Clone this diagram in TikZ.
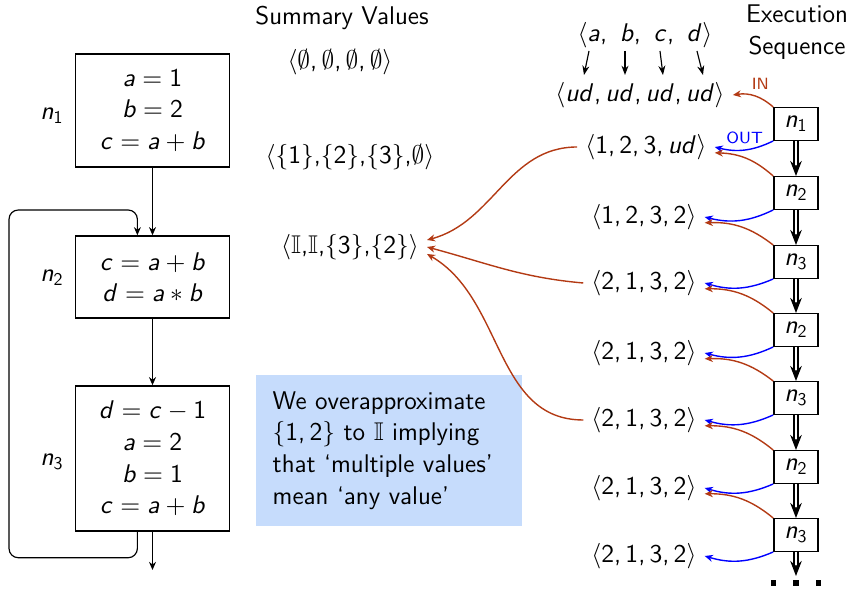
\documentclass[tikz,border=0pt]{standalone}
\usepackage{amssymb}
\usetikzlibrary{arrows.meta}

% sans serif math, as on the slide
\DeclareFontShape{OT1}{cmss}{m}{sl}{<-> cmssi10}{}
\DeclareFontShape{OT1}{cmss}{m}{n}{<-> cmss10}{}
\SetSymbolFont{operators}{normal}{OT1}{cmss}{m}{n}
\SetSymbolFont{letters}{normal}{OT1}{cmss}{m}{sl}
\DeclareMathSymbol{,}{\mathpunct}{operators}{"2C}

\begin{document}
\begin{tikzpicture}[x=0.43pt, y=-0.43pt,
    font=\fontsize{11}{13.6}\selectfont\sffamily,
    stmtbox/.style={draw, line width=0.6pt, align=center, minimum width=66pt, inner sep=0pt},
    execbox/.style={draw, line width=0.6pt, minimum width=19pt, minimum height=14pt, inner sep=1pt, fill=white},
    notebox/.style={fill=noteFill, text width=100pt, align=left, minimum height=65pt, inner xsep=7pt},
    tag/.style={font=\sffamily\scriptsize},
    flow/.style={line width=0.5pt, -{Stealth[length=3.5pt,width=3pt]}},
    varr/.style={line width=0.5pt, -{Stealth[length=4pt,width=3pt]}},
    seqarr/.style={double, double distance=1.2pt, line width=0.5pt, -{Stealth[length=6.5pt,width=5pt]}},
    redarr/.style={flowRed, line width=0.6pt, -{Stealth[length=3.5pt,width=3pt]}},
    bluearr/.style={flowBlue, line width=0.6pt, -{Stealth[length=3.5pt,width=3pt]}}]

    \definecolor{flowRed}{HTML}{B33A14}
    \definecolor{flowBlue}{HTML}{0000FF}
    \definecolor{noteFill}{HTML}{C6DCFC}

    \useasboundingbox (0,0) rectangle (852,593);

    % Draw the control flow graph
    \node[stmtbox, minimum height=48.6pt] (n1) at (152.5,110.5) {$a = 1$\\$b = 2$\\$c = a + b$};
    \node[stmtbox, minimum height=35.3pt] (n2) at (152.5,277) {$c = a + b$\\$d = a * b$};
    \node[stmtbox, minimum height=62.4pt] (n3) at (152.5,458.5) {$d = c - 1$\\$a = 2$\\$b = 1$\\$c = a + b$};
    \node (l1) at (52,116) {$n_1$};
    \node (l2) at (52,278) {$n_2$};
    \node (l3) at (52,462) {$n_3$};
    \coordinate (exit) at (152.5,570);

    \draw[flow] (n1) -- (n2);
    \draw[flow] (n2) -- (n3);
    \draw[flow] (n3) -- (exit);
    \draw[flow, rounded corners=4pt] ([xshift=-6.5pt]n3.south) -- ++(0,26) -| (9,210) -| ([xshift=-6.5pt]n2.north);

    % Summary values
    \node (svTitle) at (342,18) {Summary Values};
    \node (sv0) at (340,62) {$\langle\emptyset, \emptyset, \emptyset, \emptyset\rangle$};
    \node (sv1) at (350,157) {$\langle\{1\}{,}\{2\}{,}\{3\}{,}\emptyset\rangle$};
    \node (sv2) at (350,247) {$\langle\mathbb{I}{,}\mathbb{I}{,}\{3\}{,}\{2\}\rangle$};

    % Note
    \node[notebox] (note) at (389,450.5) {We overapproximate\\$\{1,2\}$ to $\mathbb{I}$ implying\\that `multiple values'\\mean `any value'};

    % Execution sequence
    \node[align=center] (exTitle) at (797,32) {Execution\\Sequence};
    \node (vars) at (645,35) {$\langle a,\ b,\ c,\ d\rangle$};
    \node (init) at (640,95) {$\langle ud, ud, ud, ud\rangle$};
    \foreach \s/\e [count=\i] in {589/584, 625/625, 660/663, 697/703} {
        \coordinate (v\i) at (\s,51);
        \coordinate (u\i) at (\e,75);
        \draw[varr] (v\i) -- (u\i);
    }

    \node (t0) at (646,147) {$\langle 1, 2, 3, ud\rangle$};
    \node (t1) at (644,217) {$\langle 1, 2, 3, 2\rangle$};
    \foreach \y [count=\i from 2] in {283,353,420,488,556}
        \node (t\i) at (644,\y) {$\langle 2, 1, 3, 2\rangle$};

    \foreach \lbl/\y [count=\i] in {1/124, 2/193, 3/262, 2/330, 3/398, 2/467, 3/535}
        \node[execbox] (e\i) at (796,\y) {$n_\lbl$};

    \foreach \i in {1,...,6} {
        \pgfmathtruncatemacro\j{\i+1}
        \draw[seqarr] (e\i) -- (e\j);
    }
    \coordinate (seqEnd) at (796,576);
    \draw[seqarr] (e7) -- (seqEnd);
    \node (dots) at (796,583) {\rule{2.2pt}{2.2pt}\hspace{7.5pt}\rule{2.2pt}{2.2pt}\hspace{7.5pt}\rule{2.2pt}{2.2pt}};

    % In and out values
    \draw[redarr] (e1.north west) to[bend right=25] node[pos=0.35, above=0pt, tag, text=flowRed] {IN} (init.east);
    \draw[bluearr] (e1.south west) to[bend left=20] node[pos=0.5, above=-1pt, tag, text=flowBlue] {OUT} (t0.east);
    \foreach \i in {2,...,7} {
        \pgfmathtruncatemacro\p{\i-2}
        \pgfmathtruncatemacro\q{\i-1}
        \draw[redarr] (e\i.north west) to[bend right=20] ([yshift=-2.5pt]t\p.east);
        \draw[bluearr] (e\i.south west) to[bend left=20] (t\q.east);
    }

    % Merge into the summary
    \draw[redarr] (t0.west) to[out=180, in=15] ([yshift=3pt]sv2.east);
    \draw[redarr] (t2.west) to[out=175, in=-15] (sv2.east);
    \draw[redarr] (t4.west) to[out=180, in=-30] ([yshift=-3pt]sv2.east);

\end{tikzpicture}
\end{document}
